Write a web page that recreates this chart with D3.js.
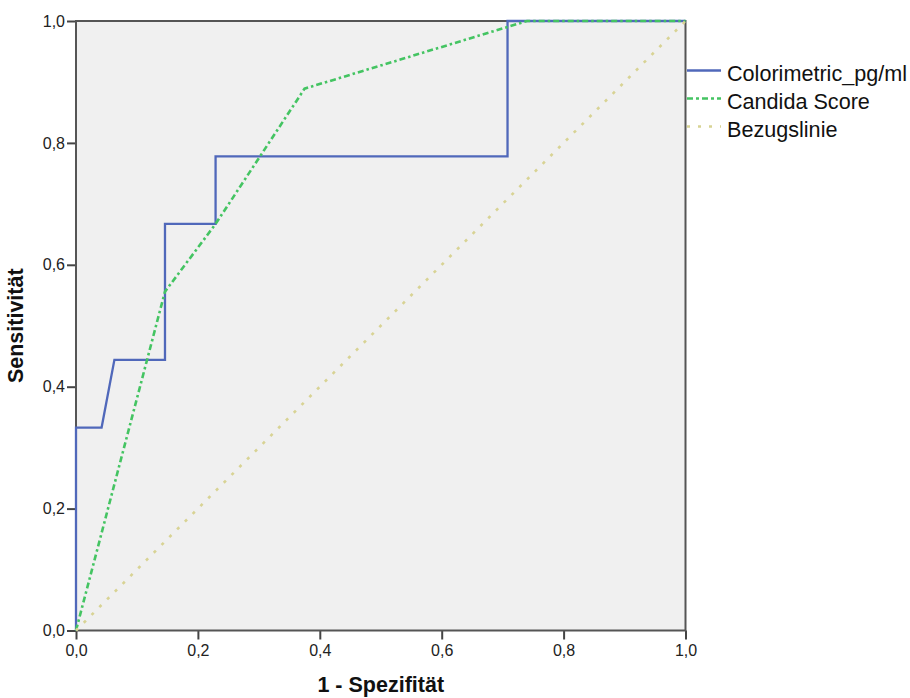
<!DOCTYPE html>
<html>
<head>
<meta charset="utf-8">
<script src="https://cdn.jsdelivr.net/npm/d3@7"></script>
<style>
  html, body { margin: 0; padding: 0; background: #ffffff; }
  svg { display: block; font-family: "Liberation Sans", Arial, sans-serif; }
</style>
</head>
<body>
<svg id="chart" width="910" height="698"></svg>
<script>
// ROC curves: 1 - specificity (x) vs. sensitivity (y)
const colorimetricFpr = [0, 0, 0.042, 0.063, 0.146, 0.146, 0.229, 0.229, 0.708, 0.708, 1];
const colorimetricTpr = [0, 0.333, 0.333, 0.444, 0.444, 0.667, 0.667, 0.778, 0.778, 1, 1];

const candidaFpr = [0, 0.146, 0.229, 0.375, 0.74, 1];
const candidaTpr = [0, 0.556, 0.667, 0.889, 1, 1];

const referenceFpr = [0, 1];
const referenceTpr = [0, 1];

const tickValues = [0, 0.2, 0.4, 0.6, 0.8, 1.0];
const tickLabels = ["0,0", "0,2", "0,4", "0,6", "0,8", "1,0"];

const seriesNames = ["Colorimetric_pg/ml", "Candida Score", "Bezugslinie"];

const svg = d3.select("#chart");
const plot = { left: 76, top: 21, right: 685.5, bottom: 630.5 };

const x = d3.scaleLinear().domain([0, 1]).range([plot.left, plot.right]);
const y = d3.scaleLinear().domain([0, 1]).range([plot.bottom, plot.top]);

const styles = [
  { color: "#5068ba", dash: null, width: 2.3 },
  { color: "#44c462", dash: "6,3,2.5,3", width: 2.6 },
  { color: "#d8d394", dash: "3,8", width: 2.6 }
];

// plot background
svg.append("rect")
  .attr("x", plot.left).attr("y", plot.top)
  .attr("width", plot.right - plot.left).attr("height", plot.bottom - plot.top)
  .attr("fill", "#f0f0f0");

// axes
const fmt = d => tickLabels[tickValues.indexOf(d)];
const xAxis = svg.append("g")
  .attr("transform", `translate(0,${plot.bottom})`)
  .call(d3.axisBottom(x).tickValues(tickValues).tickFormat(fmt).tickSize(9).tickSizeOuter(0).tickPadding(5));
const yAxis = svg.append("g")
  .attr("transform", `translate(${plot.left},0)`)
  .call(d3.axisLeft(y).tickValues(tickValues).tickFormat(fmt).tickSize(9).tickSizeOuter(0).tickPadding(2));

[xAxis, yAxis].forEach(g => {
  g.select(".domain").remove();
  g.selectAll(".tick line").attr("stroke", "#444").attr("stroke-width", 2);
  g.selectAll(".tick text").attr("fill", "#222").style("font-size", "16px");
});

// frame
svg.append("rect")
  .attr("x", plot.left).attr("y", plot.top)
  .attr("width", plot.right - plot.left).attr("height", plot.bottom - plot.top)
  .attr("fill", "none").attr("stroke", "#555").attr("stroke-width", 2);

// curves
const line = d3.line().x(d => x(d[0])).y(d => y(d[1]));
const series = [
  d3.zip(colorimetricFpr, colorimetricTpr),
  d3.zip(candidaFpr, candidaTpr),
  d3.zip(referenceFpr, referenceTpr)
];
series.forEach((pts, i) => {
  svg.append("path")
    .datum(pts)
    .attr("d", line)
    .attr("fill", "none")
    .attr("stroke", styles[i].color)
    .attr("stroke-width", styles[i].width)
    .attr("stroke-dasharray", styles[i].dash);
});

// axis titles
svg.append("text")
  .attr("x", (plot.left + plot.right) / 2).attr("y", 692)
  .attr("text-anchor", "middle")
  .style("font-size", "21.5px").style("font-weight", "bold").attr("fill", "#111")
  .text("1 - Spezifität");
svg.append("text")
  .attr("transform", `translate(23,${(plot.top + plot.bottom) / 2}) rotate(-90)`)
  .attr("text-anchor", "middle")
  .style("font-size", "21.5px").style("font-weight", "bold").attr("fill", "#111")
  .text("Sensitivität");

// legend
const legend = svg.append("g").attr("transform", "translate(687,70.5)");
seriesNames.forEach((name, i) => {
  const g = legend.append("g").attr("transform", `translate(0,${i * 28})`);
  g.append("line")
    .attr("x1", 0).attr("x2", 34).attr("y1", 0).attr("y2", 0)
    .attr("stroke", styles[i].color).attr("stroke-width", 2.3)
    .attr("stroke-dasharray", i === 1 ? "6,3,3,3" : styles[i].dash);
  g.append("text")
    .attr("x", 40).attr("y", 3).attr("dy", "0.36em")
    .style("font-size", "21.6px").attr("fill", "#111")
    .text(name);
});
</script>
</body>
</html>
